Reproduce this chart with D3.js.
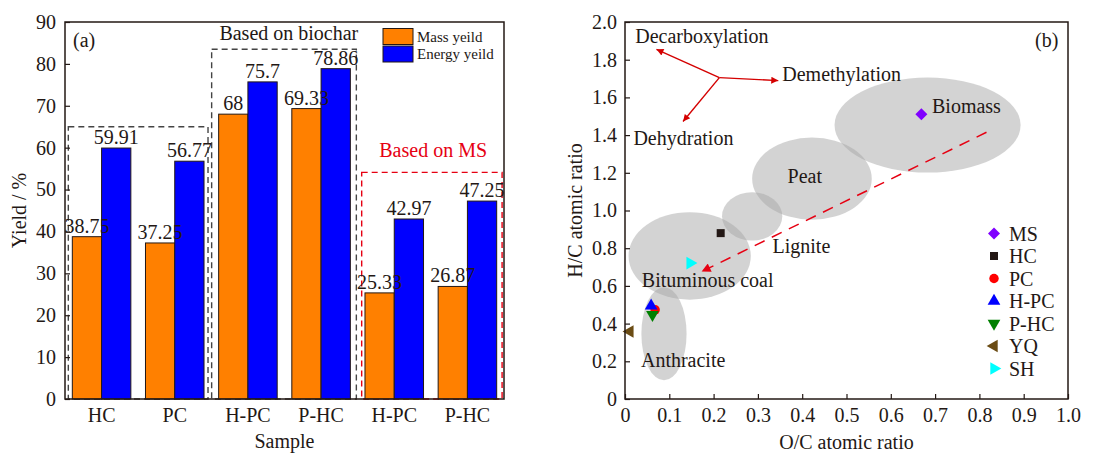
<!DOCTYPE html>
<html>
<head>
<meta charset="utf-8">
<script src="https://cdn.jsdelivr.net/npm/d3@7"></script>
<style>
  body { margin: 0; background: #fff; }
  svg { display: block; }
</style>
</head>
<body>
<svg id="chart" width="1096" height="454"></svg>
<script>
// ---- panel (a) data ----
const samples = ["HC", "PC", "H-PC", "P-HC", "H-PC", "P-HC"];
const massYield = [38.75, 37.25, 68, 69.33, 25.33, 26.87];
const energyYield = [59.91, 56.77, 75.7, 78.86, 42.97, 47.25];
const yieldTicks = [0, 10, 20, 30, 40, 50, 60, 70, 80, 90];
const seriesNames = ["Mass yeild", "Energy yeild"];
const seriesColors = ["#ff8000", "#0000ff"];

// ---- panel (b) data ----
const pointNames = ["MS", "HC", "PC", "H-PC", "P-HC", "YQ", "SH"];
const pointOC = [0.669, 0.216, 0.068, 0.059, 0.062, 0.011, 0.147];
const pointHC = [1.511, 0.88, 0.473, 0.494, 0.447, 0.358, 0.721];
const pointColors = ["#8000ff", "#231815", "#ff0000", "#0000ff", "#008000", "#6b4c14", "#00ffff"];
const regionNames = ["Biomass", "Peat", "Lignite", "Bituminous coal", "Anthracite"];
const regionCx = [0.683, 0.422, 0.287, 0.146, 0.088];
const regionCy = [1.453, 1.169, 0.969, 0.759, 0.346];
const regionRx = [0.21, 0.135, 0.068, 0.138, 0.051];
const regionRy = [0.252, 0.218, 0.128, 0.232, 0.247];
const ocTicks = [0, 0.1, 0.2, 0.3, 0.4, 0.5, 0.6, 0.7, 0.8, 0.9, 1.0];
const hcTicks = [0, 0.2, 0.4, 0.6, 0.8, 1.0, 1.2, 1.4, 1.6, 1.8, 2.0];

const svg = d3.select("#chart");
const ink = "#231815";
const serif = "'Liberation Serif', 'Times New Roman', serif";
const defs = svg.append("defs");

function label(g, x, y, str, size, anchor, color) {
    return g.append("text")
        .attr("x", x).attr("y", y)
        .attr("text-anchor", anchor || "start")
        .style("font-family", serif)
        .style("font-size", size + "px")
        .style("fill", color || ink)
        .text(str);
}

function arrowMarker(id, color, w, h) {
    defs.append("marker")
        .attr("id", id)
        .attr("viewBox", "0 0 10 10")
        .attr("refX", 10).attr("refY", 5)
        .attr("markerWidth", w).attr("markerHeight", h)
        .attr("markerUnits", "userSpaceOnUse")
        .attr("orient", "auto")
        .append("path")
        .attr("d", "M0,0 L10,5 L0,10 Z")
        .style("fill", color);
}
arrowMarker("arrRed", "#d40000", 12, 7);
arrowMarker("arrDash", "#e60012", 14, 9);

// ================= panel (a) =================
const A = { left: 65, right: 504, top: 22, bottom: 399 };
const xa = d3.scaleBand().domain(d3.range(samples.length))
    .range([A.left, A.right]).paddingInner(0.2).paddingOuter(0.1);
const xs = d3.scaleBand().domain([0, 1]).range([0, xa.bandwidth()]);
const ya = d3.scaleLinear().domain([0, 90]).range([A.bottom, A.top]);

const ga = svg.append("g");

// dashed boxes
const boxes = [
    { from: 0, to: 1, top: 65, color: "#444", padL: 4, padR: 4 },
    { from: 2, to: 3, top: 83.5, color: "#444", padL: 7, padR: 6 },
    { from: 4, to: 5, top: 54.1, color: "#e60012", padL: 3.3, padR: 5.4 }
];
boxes.forEach(b => {
    const x0 = xa(b.from) - b.padL, x1 = xa(b.to) + xa.bandwidth() + b.padR;
    ga.append("rect")
        .attr("x", x0).attr("y", ya(b.top))
        .attr("width", x1 - x0).attr("height", ya(0) - ya(b.top))
        .style("fill", "none").style("stroke", b.color)
        .style("stroke-width", 1.4).style("stroke-dasharray", "6,4");
});

// bars
[massYield, energyYield].forEach((vals, s) => {
    ga.selectAll(".bar" + s).data(vals).enter().append("rect")
        .attr("x", (d, i) => xa(i) + xs(s))
        .attr("y", d => ya(d))
        .attr("width", xs.bandwidth())
        .attr("height", d => ya(0) - ya(d))
        .style("fill", seriesColors[s])
        .style("stroke", ink).style("stroke-width", 1);
});
[massYield, energyYield].forEach((vals, s) => {
    vals.forEach((d, i) => {
        label(ga, xa(i) + xs(s) + xs.bandwidth() / 2, ya(d) - 4, d, 20, "middle");
    });
});

// frame + axes
ga.append("rect").attr("x", A.left).attr("y", A.top)
    .attr("width", A.right - A.left).attr("height", A.bottom - A.top)
    .style("fill", "none").style("stroke", ink).style("stroke-width", 1.5);
const yAxisA = ga.append("g").attr("transform", `translate(${A.left},0)`)
    .call(d3.axisLeft(ya).tickValues(yieldTicks).tickSizeInner(-5).tickSizeOuter(0).tickPadding(9));
const xAxisA = ga.append("g").attr("transform", `translate(0,${A.bottom})`)
    .call(d3.axisBottom(xa).tickFormat(i => samples[i]).tickSize(0).tickPadding(9));
[yAxisA, xAxisA].forEach(ax => {
    ax.attr("font-family", null).attr("font-size", null);
    ax.select(".domain").remove();
    ax.selectAll("line").style("stroke", ink).style("stroke-width", 1.2);
    ax.selectAll("text").style("font-size", "20px").style("font-family", serif).style("fill", ink);
});
xAxisA.selectAll("text").attr("dy", "0.72em");

label(ga, (A.left + A.right) / 2, 448, "Sample", 20, "middle");
label(ga, 0, 0, "Yield / %", 20, "middle")
    .attr("transform", `translate(26,${(A.top + A.bottom) / 2}) rotate(-90)`);
label(ga, 73, 47, "(a)", 20);
label(ga, xa(2) + xa.step() - 3, ya(85.6), "Based on biochar", 20, "middle");
label(ga, xa(4) + xa.step() - 5, ya(57.8), "Based on MS", 20, "middle", "#e60012");

// legend (a)
seriesNames.forEach((name, s) => {
    const ly = 28.5 + s * 17.5;
    ga.append("rect").attr("x", 383).attr("y", ly).attr("width", 30).attr("height", 16)
        .style("fill", seriesColors[s]).style("stroke", ink).style("stroke-width", 1);
    label(ga, 417, ly + 13, name, 15);
});

// ================= panel (b) =================
const B = { left: 625, right: 1068, top: 22, bottom: 399 };
const xb = d3.scaleLinear().domain([0, 1]).range([B.left, B.right]);
const yb = d3.scaleLinear().domain([0, 2]).range([B.bottom, B.top]);
const gb = svg.append("g");

// coal rank regions
regionNames.forEach((n, i) => {
    gb.append("ellipse")
        .attr("cx", xb(regionCx[i])).attr("cy", yb(regionCy[i]))
        .attr("rx", xb(regionRx[i]) - xb(0)).attr("ry", yb(0) - yb(regionRy[i]))
        .style("fill", "#a8a8a8").style("opacity", 0.5);
});
const regionLabelX = [0.693, 0.367, 0.333, 0.038, 0.036];
const regionLabelY = [1.516, 1.148, 0.774, 0.594, 0.17];
regionNames.forEach((n, i) => {
    label(gb, xb(regionLabelX[i]), yb(regionLabelY[i]), n, 20);
});

// evolution trend
gb.append("line")
    .attr("x1", xb(0.816)).attr("y1", yb(1.415))
    .attr("x2", xb(0.173)).attr("y2", yb(0.676))
    .style("stroke", "#e60012").style("stroke-width", 1.5)
    .style("stroke-dasharray", "11,8")
    .attr("marker-end", "url(#arrDash)");

// reaction arrows
const hub = [0.213, 1.705];
const arrowTips = [[0.071, 1.855], [0.346, 1.689], [0.131, 1.472]];
arrowTips.forEach(t => {
    gb.append("line")
        .attr("x1", xb(hub[0])).attr("y1", yb(hub[1]))
        .attr("x2", xb(t[0])).attr("y2", yb(t[1]))
        .style("stroke", "#d40000").style("stroke-width", 1.4)
        .attr("marker-end", "url(#arrRed)");
});
label(gb, xb(0.023), 43, "Decarboxylation", 20);
label(gb, xb(0.355), 81, "Demethylation", 20);
label(gb, xb(0.019), 145, "Dehydration", 20);

// symbols (diamond = square turned 45deg)
const symbolTypes = [d3.symbolSquare, d3.symbolSquare, d3.symbolCircle, d3.symbolTriangle,
    d3.symbolTriangle, d3.symbolTriangle, d3.symbolTriangle];
const symbolRot = [45, 0, 0, 0, 180, -90, 90];
const symbolSize = [72, 64, 70, 70, 70, 70, 70];
function drawSymbol(g, i, x, y) {
    g.append("path")
        .attr("d", d3.symbol().type(symbolTypes[i]).size(symbolSize[i])())
        .attr("transform", `translate(${x},${y}) rotate(${symbolRot[i]})`)
        .style("fill", pointColors[i]);
}
// draw order so the blue/green sit over the red circle
[0, 1, 6, 5, 2, 4, 3].forEach(i => drawSymbol(gb, i, xb(pointOC[i]), yb(pointHC[i])));

// frame + axes
gb.append("rect").attr("x", B.left).attr("y", B.top)
    .attr("width", B.right - B.left).attr("height", B.bottom - B.top)
    .style("fill", "none").style("stroke", ink).style("stroke-width", 1.5);
const fmt = d => d === 0 ? "0" : d3.format(".1f")(d);
const yAxisB = gb.append("g").attr("transform", `translate(${B.left},0)`)
    .call(d3.axisLeft(yb).tickValues(hcTicks).tickFormat(fmt)
        .tickSizeInner(-5).tickSizeOuter(0).tickPadding(8));
const xAxisB = gb.append("g").attr("transform", `translate(0,${B.bottom})`)
    .call(d3.axisBottom(xb).tickValues(ocTicks).tickFormat(fmt)
        .tickSizeInner(-5).tickSizeOuter(0).tickPadding(9));
[yAxisB, xAxisB].forEach(ax => {
    ax.attr("font-family", null).attr("font-size", null);
    ax.select(".domain").remove();
    ax.selectAll("line").style("stroke", ink).style("stroke-width", 1.2);
    ax.selectAll("text").style("font-size", "20px").style("font-family", serif).style("fill", ink);
});
xAxisB.selectAll("text").attr("dy", "0.72em");

label(gb, (B.left + B.right) / 2, 449, "O/C atomic ratio", 20, "middle");
label(gb, 0, 0, "H/C atomic ratio", 20, "middle")
    .attr("transform", `translate(582,${(B.top + B.bottom) / 2}) rotate(-90)`);
label(gb, 1035, 47, "(b)", 20);

// legend (b)
pointNames.forEach((n, i) => {
    const ly = 233.5 + i * 22.5;
    drawSymbol(gb, i, 994, ly);
    label(gb, 1009, ly + 7, n, 20);
});
</script>
</body>
</html>
